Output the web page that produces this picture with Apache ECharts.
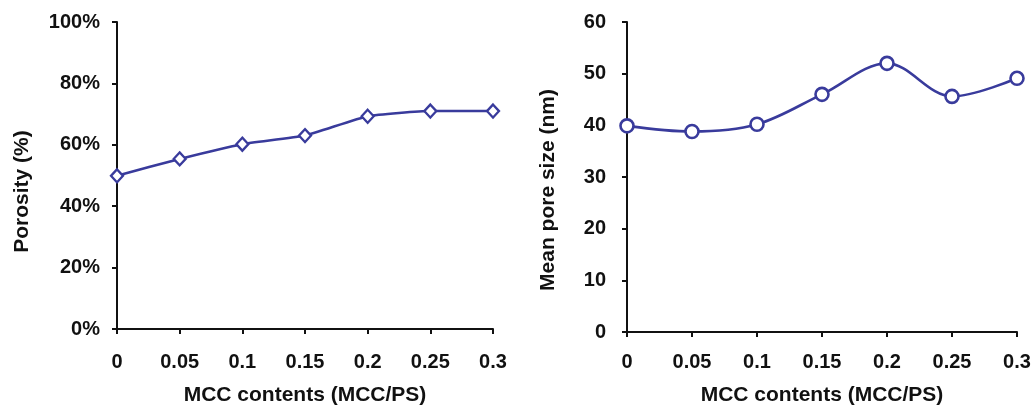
<!DOCTYPE html>
<html><head><meta charset="utf-8">
<style>html,body{margin:0;padding:0;background:#fff}#c{width:1031px;height:407px}</style>
<script src="https://cdn.jsdelivr.net/npm/echarts@6/dist/echarts.min.js"></script>
</head><body><div id="c"></div>
<script>
const mccContents = [0, 0.05, 0.1, 0.15, 0.2, 0.25, 0.3];
const porosity = [49.9, 55.4, 60.2, 63.0, 69.3, 71.0, 71.0];
const meanPoreSize = [39.9, 38.8, 40.2, 46.0, 52.0, 45.6, 49.1];
const xTitle = 'MCC contents (MCC/PS)';
const leftYTitle = 'Porosity (%)';
const rightYTitle = 'Mean pore size (nm)';

const color = '#393b9c';
const font = 'Liberation Sans, Arial, sans-serif';
const lbl = {color:'#111', fontFamily:font, fontWeight:'bold', fontSize:20};
const axLine = {show:true, lineStyle:{color:'#111', width:2}};
const axTick = {show:true, inside:false, length:5, lineStyle:{color:'#111', width:2}};

function xAxis(gi, margin, gap){
  return {type:'value', gridIndex:gi, min:0, max:0.3, interval:0.05,
    axisLine:axLine, axisTick:axTick, splitLine:{show:false},
    axisLabel:Object.assign({margin:margin, formatter:v=>String(+v.toFixed(2))}, lbl),
    name:xTitle, nameLocation:'middle', nameGap:gap,
    nameTextStyle:{color:'#111', fontFamily:font, fontWeight:'bold', fontSize:21}};
}
function yAxis(gi, max, interval, fmt, name, gap, shift, margin){
  return {type:'value', gridIndex:gi, min:0, max:max, interval:interval,
    axisLine:axLine, axisTick:axTick, splitLine:{show:false},
    axisLabel:Object.assign({margin:margin, formatter:fmt}, lbl),
    name:name, nameLocation:'middle', nameGap:gap, nameRotate:90,
    nameTextStyle:{color:'#111', fontFamily:font, fontWeight:'bold', fontSize:21, padding:[0, shift, 0, 0]}};
}
const chart = echarts.init(document.getElementById('c'), null, {renderer:'canvas'});
chart.setOption({
  animation:false,
  grid:[{left:117, right:538, top:22, bottom:78, containLabel:false, outerBoundsMode:'none'},
        {left:627, right:14, top:22, bottom:75, containLabel:false, outerBoundsMode:'none'}],
  xAxis:[xAxis(0, 23, 56), xAxis(1, 20, 53)],
  yAxis:[yAxis(0, 100, 20, v=>v+'%', leftYTitle, 84, 32, 17), yAxis(1, 60, 10, v=>v, rightYTitle, 68, 26, 21)],
  series:[
    {type:'line', xAxisIndex:0, yAxisIndex:0, data:mccContents.map((x,i)=>[x,porosity[i]]),
     smooth:0.15, symbol:'diamond', symbolSize:[12,13], showAllSymbol:true,
     lineStyle:{color:color, width:2.6}, itemStyle:{color:'#fff', borderColor:color, borderWidth:2.3}},
    {type:'line', xAxisIndex:1, yAxisIndex:1, data:mccContents.map((x,i)=>[x,meanPoreSize[i]]),
     smooth:0.35, symbol:'circle', symbolSize:13, showAllSymbol:true,
     lineStyle:{color:color, width:2.6}, itemStyle:{color:'#fff', borderColor:color, borderWidth:2.6}}
  ]
});
</script></body></html>
